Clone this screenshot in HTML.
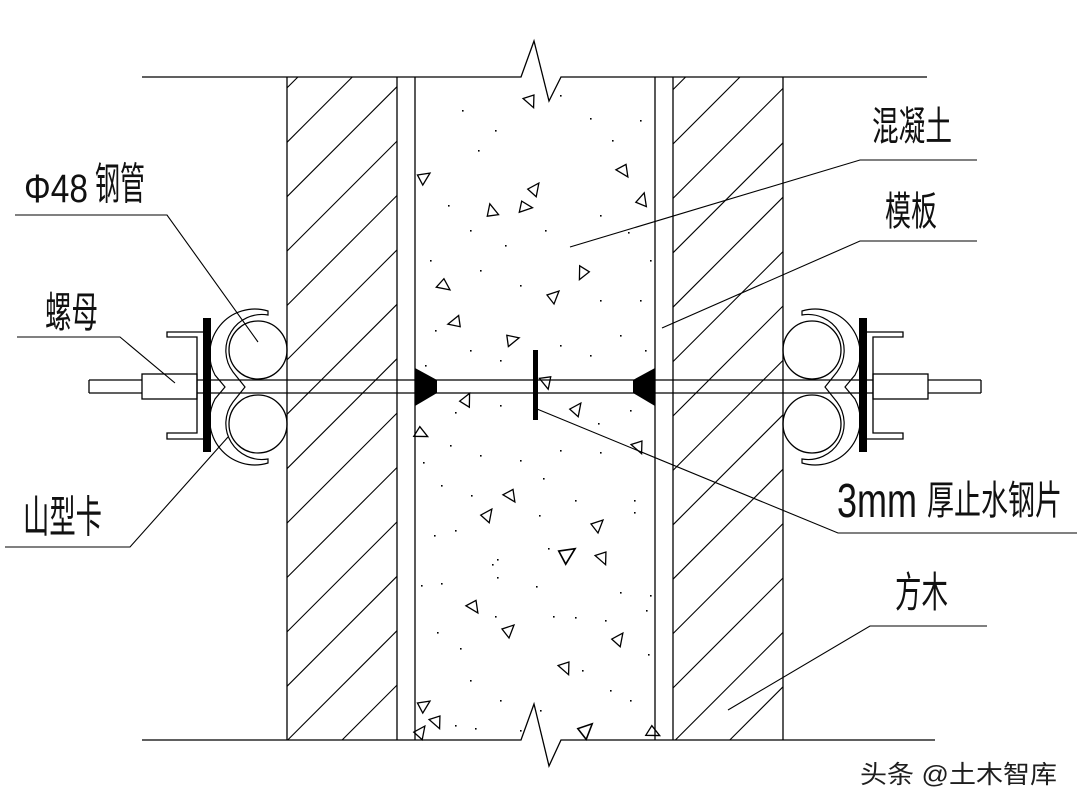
<!DOCTYPE html>
<html>
<head>
<meta charset="utf-8">
<style>
  html,body{margin:0;padding:0;background:#fff;}
  body{width:1080px;height:810px;overflow:hidden;}
  svg{display:block;overflow:hidden;}
  .t{font-family:"Liberation Sans","Noto Sans CJK SC",sans-serif;fill:#111;}
</style>
</head>
<body>
<svg width="1080" height="810" viewBox="0 0 1080 810" xmlns="http://www.w3.org/2000/svg">
  <defs>
    <polygon id="tri" points="-6,-6 7,-1 -2,6" fill="none" stroke="#000" stroke-width="1.3"/>
    <g id="asm">
      <line x1="89" y1="380" x2="89" y2="393" stroke="#000" stroke-width="1.3"/>
      <rect x="142" y="374" width="55" height="25" fill="#fff" stroke="#000" stroke-width="1.3"/>
      <path d="M204,332 L167,332 L167,337 L197,337 L197,433 L167,433 L167,439 L204,439" fill="none" stroke="#000" stroke-width="1.3"/>
      <rect x="203" y="318" width="8" height="134" fill="#000"/>
      <circle cx="258" cy="350" r="29" fill="none" stroke="#000" stroke-width="1.3"/>
      <circle cx="258" cy="424" r="29" fill="none" stroke="#000" stroke-width="1.3"/>
      <path d="M268,311 A45,45 0 0 0 215,375 L225,387 L215,399 A45,45 0 0 0 268,463 L268,459 A36,36 0 0 1 233,402 L245,387 L233,372 A36,36 0 0 1 268,315 Z" fill="none" stroke="#000" stroke-width="1.2"/>
    </g>
  </defs>

  <polyline points="142,77 521,77 534,41 549,101 561,77 927,77" fill="none" stroke="#000" stroke-width="1.3"/>
  <polyline points="142,740 521,740 534,704 549,766 561,740 935,740" fill="none" stroke="#000" stroke-width="1.3"/>

  <g stroke="#000" stroke-width="1.3">
    <line x1="287" y1="77" x2="287" y2="740"/>
    <line x1="397" y1="77" x2="397" y2="740"/>
    <line x1="415" y1="77" x2="415" y2="740"/>
    <line x1="655" y1="77" x2="655" y2="740"/>
    <line x1="673" y1="77" x2="673" y2="740"/>
    <line x1="783" y1="77" x2="783" y2="740"/>
  </g>

  <g stroke="#000" stroke-width="1.1">
    <line x1="287" y1="87.9" x2="297.9" y2="77"/>
    <line x1="287" y1="142.3" x2="352.3" y2="77"/>
    <line x1="287" y1="196.7" x2="397" y2="86.7"/>
    <line x1="287" y1="251.1" x2="397" y2="141.1"/>
    <line x1="287" y1="305.5" x2="397" y2="195.5"/>
    <line x1="287" y1="359.9" x2="397" y2="249.9"/>
    <line x1="287" y1="414.3" x2="397" y2="304.3"/>
    <line x1="287" y1="468.7" x2="397" y2="358.7"/>
    <line x1="287" y1="523.1" x2="397" y2="413.1"/>
    <line x1="287" y1="577.5" x2="397" y2="467.5"/>
    <line x1="287" y1="631.9" x2="397" y2="521.9"/>
    <line x1="287" y1="686.3" x2="397" y2="576.3"/>
    <line x1="287.7" y1="740" x2="397" y2="630.7"/>
    <line x1="342.1" y1="740" x2="397" y2="685.1"/>

    <line x1="673" y1="89.6" x2="685.6" y2="77"/>
    <line x1="673" y1="144" x2="740" y2="77"/>
    <line x1="673" y1="198.4" x2="783" y2="88.4"/>
    <line x1="673" y1="252.8" x2="783" y2="142.8"/>
    <line x1="673" y1="307.2" x2="783" y2="197.2"/>
    <line x1="673" y1="361.6" x2="783" y2="251.6"/>
    <line x1="673" y1="416" x2="783" y2="306"/>
    <line x1="673" y1="470.4" x2="783" y2="360.4"/>
    <line x1="673" y1="524.8" x2="783" y2="414.8"/>
    <line x1="673" y1="579.2" x2="783" y2="469.2"/>
    <line x1="673" y1="633.6" x2="783" y2="523.6"/>
    <line x1="673" y1="688" x2="783" y2="578"/>
    <line x1="675.4" y1="740" x2="783" y2="632.4"/>
    <line x1="729.8" y1="740" x2="783" y2="686.8"/>
  </g>

  <g fill="#000">
    <rect x="462" y="110" width="1.6" height="1.6"/><rect x="495" y="130" width="1.6" height="1.6"/>
    <rect x="478" y="150" width="1.6" height="1.6"/><rect x="560" y="95" width="1.6" height="1.6"/>
    <rect x="590" y="118" width="1.6" height="1.6"/><rect x="612" y="140" width="1.6" height="1.6"/>
    <rect x="640" y="120" width="1.6" height="1.6"/><rect x="448" y="205" width="1.6" height="1.6"/>
    <rect x="470" y="230" width="1.6" height="1.6"/><rect x="505" y="245" width="1.6" height="1.6"/>
    <rect x="545" y="230" width="1.6" height="1.6"/><rect x="600" y="215" width="1.6" height="1.6"/>
    <rect x="628" y="232" width="1.6" height="1.6"/><rect x="650" y="260" width="1.6" height="1.6"/>
    <rect x="430" y="260" width="1.6" height="1.6"/><rect x="480" y="270" width="1.6" height="1.6"/>
    <rect x="520" y="285" width="1.6" height="1.6"/><rect x="600" y="300" width="1.6" height="1.6"/>
    <rect x="640" y="300" width="1.6" height="1.6"/><rect x="435" y="330" width="1.6" height="1.6"/>
    <rect x="470" y="350" width="1.6" height="1.6"/><rect x="500" y="360" width="1.6" height="1.6"/>
    <rect x="560" y="345" width="1.6" height="1.6"/><rect x="590" y="355" width="1.6" height="1.6"/>
    <rect x="620" y="335" width="1.6" height="1.6"/><rect x="645" y="350" width="1.6" height="1.6"/>
    <rect x="425" y="365" width="1.6" height="1.6"/><rect x="455" y="412" width="1.6" height="1.6"/>
    <rect x="500" y="405" width="1.6" height="1.6"/><rect x="598" y="423" width="1.6" height="1.6"/>
    <rect x="630" y="410" width="1.6" height="1.6"/><rect x="450" y="445" width="1.6" height="1.6"/>
    <rect x="480" y="455" width="1.6" height="1.6"/><rect x="520" y="460" width="1.6" height="1.6"/>
    <rect x="560" y="450" width="1.6" height="1.6"/><rect x="600" y="452" width="1.6" height="1.6"/>
    <rect x="423" y="462" width="1.6" height="1.6"/><rect x="441" y="485" width="1.6" height="1.6"/>
    <rect x="471" y="495" width="1.6" height="1.6"/><rect x="543" y="478" width="1.6" height="1.6"/>
    <rect x="575" y="500" width="1.6" height="1.6"/><rect x="634" y="500" width="1.6" height="1.6"/>
    <rect x="634" y="512" width="1.6" height="1.6"/><rect x="434" y="535" width="1.6" height="1.6"/>
    <rect x="455" y="530" width="1.6" height="1.6"/><rect x="539" y="515" width="1.6" height="1.6"/>
    <rect x="548" y="548" width="1.6" height="1.6"/><rect x="421" y="585" width="1.6" height="1.6"/>
    <rect x="441" y="583" width="1.6" height="1.6"/><rect x="497" y="559" width="1.6" height="1.6"/>
    <rect x="492" y="564" width="1.6" height="1.6"/><rect x="497" y="577" width="1.6" height="1.6"/>
    <rect x="536" y="586" width="1.6" height="1.6"/><rect x="620" y="592" width="1.6" height="1.6"/>
    <rect x="437" y="632" width="1.6" height="1.6"/><rect x="460" y="648" width="1.6" height="1.6"/>
    <rect x="495" y="616" width="1.6" height="1.6"/><rect x="553" y="616" width="1.6" height="1.6"/>
    <rect x="575" y="617" width="1.6" height="1.6"/><rect x="605" y="620" width="1.6" height="1.6"/>
    <rect x="650" y="595" width="1.6" height="1.6"/><rect x="646" y="610" width="1.6" height="1.6"/>
    <rect x="648" y="654" width="1.6" height="1.6"/><rect x="470" y="680" width="1.6" height="1.6"/>
    <rect x="500" y="700" width="1.6" height="1.6"/><rect x="520" y="730" width="1.6" height="1.6"/>
    <rect x="540" y="710" width="1.6" height="1.6"/><rect x="610" y="690" width="1.6" height="1.6"/>
    <rect x="630" y="700" width="1.6" height="1.6"/><rect x="455" y="725" width="1.6" height="1.6"/>
    <rect x="475" y="728" width="1.6" height="1.6"/><rect x="582" y="670" width="1.6" height="1.6"/>
  </g>

  <use href="#tri" transform="translate(530,100) rotate(200)"/>
  <use href="#tri" transform="translate(423,178) rotate(100)"/>
  <use href="#tri" transform="translate(534,190) rotate(80)"/>
  <use href="#tri" transform="translate(623,170) rotate(190)"/>
  <use href="#tri" transform="translate(642,201) rotate(60)"/>
  <use href="#tri" transform="translate(524,207) rotate(140)"/>
  <use href="#tri" transform="translate(492,212) rotate(30)"/>
  <use href="#tri" transform="translate(583,272) rotate(250)"/>
  <use href="#tri" transform="translate(443,285) rotate(170)"/>
  <use href="#tri" transform="translate(553,297) rotate(90)"/>
  <use href="#tri" transform="translate(456,322) rotate(300)"/>
  <use href="#tri" transform="translate(511,340) rotate(120)"/>
  <use href="#tri" transform="translate(546,381) rotate(210)"/>
  <use href="#tri" transform="translate(466,401) rotate(70)"/>
  <use href="#tri" transform="translate(576,410) rotate(80)"/>
  <use href="#tri" transform="translate(420,433) rotate(160)"/>
  <use href="#tri" transform="translate(638,446) rotate(200)"/>
  <use href="#tri" transform="translate(510,495) rotate(190)"/>
  <use href="#tri" transform="translate(487,516) rotate(80)"/>
  <use href="#tri" transform="translate(597,526) rotate(90)"/>
  <use href="#tri" transform="translate(566,555) rotate(100) scale(1.3)"/>
  <use href="#tri" transform="translate(602,557) rotate(200)"/>
  <use href="#tri" transform="translate(473,606) rotate(190)"/>
  <use href="#tri" transform="translate(508,631) rotate(90)"/>
  <use href="#tri" transform="translate(618,640) rotate(80)"/>
  <use href="#tri" transform="translate(565,667) rotate(200)"/>
  <use href="#tri" transform="translate(423,706) rotate(100)"/>
  <use href="#tri" transform="translate(436,721) rotate(200)"/>
  <use href="#tri" transform="translate(420,733) rotate(80)"/>
  <use href="#tri" transform="translate(585,731) rotate(90) scale(1.2)"/>
  <use href="#tri" transform="translate(652,732) rotate(160)"/>

  <g stroke="#000" stroke-width="1.3">
    <line x1="89" y1="380" x2="981" y2="380"/>
    <line x1="89" y1="393" x2="981" y2="393"/>
  </g>
  <polygon points="415,368 437,380 437,393 415,406" fill="#000"/>
  <polygon points="655,368 633,380 633,393 655,406" fill="#000"/>
  <rect x="533" y="350" width="5" height="70" fill="#000"/>

  <use href="#asm"/>
  <use href="#asm" transform="translate(1070,0) scale(-1,1)"/>

  <g fill="none" stroke="#000" stroke-width="1.1">
    <polyline points="15,215 167,215 258,342"/>
    <polyline points="17,337 120,337 175,383"/>
    <polyline points="5,547 130,547 228,437"/>
    <polyline points="977,160 860,160 570,247"/>
    <polyline points="977,241 860,241 662,328"/>
    <polyline points="1077,533 838,533 537,409"/>
    <polyline points="987,626 870,626 728,710"/>
  </g>

  <text class="t" x="24" y="202" font-size="40" textLength="64" lengthAdjust="spacingAndGlyphs">Φ48</text>
  <text class="t" x="95" y="199" font-size="44" textLength="50" lengthAdjust="spacingAndGlyphs">钢管</text>
  <text class="t" x="45" y="327" font-size="42" textLength="53" lengthAdjust="spacingAndGlyphs">螺母</text>
  <text class="t" x="23" y="532" font-size="44" textLength="79" lengthAdjust="spacingAndGlyphs">山型卡</text>
  <text class="t" x="872" y="140" font-size="40" textLength="80" lengthAdjust="spacingAndGlyphs">混凝土</text>
  <text class="t" x="885" y="225" font-size="40" textLength="52" lengthAdjust="spacingAndGlyphs">模板</text>
  <text class="t" x="837" y="517" font-size="48" textLength="80" lengthAdjust="spacingAndGlyphs">3mm</text>
  <text class="t" x="927" y="514" font-size="40" textLength="135" lengthAdjust="spacingAndGlyphs">厚止水钢片</text>
  <text class="t" x="895" y="607" font-size="42" textLength="53" lengthAdjust="spacingAndGlyphs">方木</text>

  <text class="t" x="860" y="783" font-size="25" textLength="197" lengthAdjust="spacingAndGlyphs" style="fill:#1e1e1e">头条 @土木智库</text>
</svg>
</body>
</html>
